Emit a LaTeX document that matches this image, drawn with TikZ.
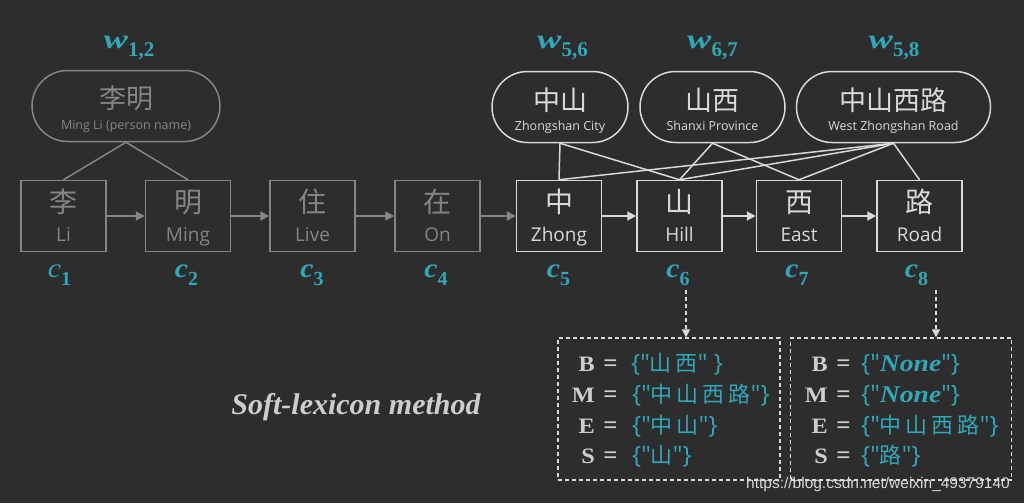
\documentclass[tikz,border=0pt]{standalone}
\usepackage{fontspec}
\setmainfont{Open Sans}
\newfontfamily\cjk{Noto Sans CJK SC}
\newfontfamily\serifb{Liberation Serif}
\newfontfamily\wmfont{Liberation Sans}
\newfontfamily\rawsans[Ligatures=TeXOff]{Open Sans}
\usetikzlibrary{arrows.meta}
\definecolor{bgc}{HTML}{2D2D2D}
\definecolor{dimc}{HTML}{858585}
\definecolor{litc}{HTML}{D9D9D9}
\definecolor{tealc}{HTML}{2FA8BA}
\definecolor{softc}{HTML}{CDCDCD}
\tikzset{
  charbox/.style={draw, line width=1.5pt, minimum width=85pt, minimum height=71pt, inner sep=0pt},
  wordoval/.style={draw, line width=1.5pt, minimum height=71pt, rounded corners=35.5pt, inner sep=0pt},
  zh/.style={anchor=base, inner sep=0pt, font=\cjk\fontsize{28}{30}\selectfont},
  en/.style={anchor=base, inner sep=0pt, font=\fontsize{19}{22}\selectfont},
  ozh/.style={anchor=base, inner sep=0pt, font=\cjk\fontsize{27}{30}\selectfont},
  oen/.style={anchor=base, inner sep=0pt, font=\fontsize{12.5}{14}\selectfont},
  lab/.style={anchor=base, inner sep=0pt, text=tealc},
  link/.style={line width=1.5pt},
  flow/.style={line width=2pt, -{Triangle[length=9pt,width=9pt]}},
  dasharrow/.style={line width=1.3pt, dash pattern=on 4pt off 3pt, litc, -{Triangle[length=8pt,width=8pt]}},
  dashbox/.style={draw=litc, line width=1.3pt, dash pattern=on 4pt off 3pt},
  rowl/.style={anchor=base east, inner sep=0pt, text=softc, font=\serifb\bfseries\fontsize{22}{24}\selectfont},
  roweq/.style={anchor=base, inner sep=0pt, text=softc, font=\serifb\bfseries\fontsize{25}{28}\selectfont},
  rowc/.style={anchor=base west, inner sep=0pt, text=tealc, font=\rawsans\fontsize{24}{26}\selectfont},
}
\newcommand{\zhc}[1]{{\cjk\fontsize{22}{24}\selectfont #1}}
\newcommand{\zg}{\hspace{4pt}}
\newcommand{\nonew}{{\serifb\bfseries\itshape\fontsize{24}{26}\selectfont\scalebox{1.15}[1]{None}}}
\newcommand{\rowletter}[1]{\scalebox{1.1}[1]{#1}}
\newcommand{\wlab}[2]{{\serifb\bfseries\itshape\fontsize{27}{30}\selectfont\scalebox{1.35}[1]{w}}\raisebox{-8pt}{\serifb\bfseries\fontsize{21}{22}\selectfont #1#2}}
\newcommand{\clab}[1]{{\serifb\bfseries\itshape\fontsize{27}{30}\selectfont\scalebox{1.1}[1]{c}}\raisebox{-8pt}{\serifb\bfseries\fontsize{20}{22}\selectfont #1}}
\newcommand{\clabthin}[1]{{\serifb\itshape\fontsize{27}{30}\selectfont\scalebox{1.1}[1]{c}}\raisebox{-8pt}{\serifb\bfseries\fontsize{20}{22}\selectfont #1}}
\begin{document}
\begin{tikzpicture}[x=1pt,y=-1pt]
\fill[bgc] (0,0) rectangle (1024,503);
\useasboundingbox (0,0) rectangle (1024,503);

% ---------- character boxes (dim) ----------
\begin{scope}[dimc]
\node[charbox] (b1) at (63.5,216) {};
\node[charbox] (b2) at (188,216) {};
\node[charbox] (b3) at (312.5,216) {};
\node[charbox] (b4) at (437.5,216) {};
\node[zh, text=dimc] (t1) at (63.5,212) {李};
\node[en, text=dimc] (e1) at (63.5,241.5) {Li};
\node[zh, text=dimc] (t2) at (188,212) {明};
\node[en, text=dimc] (e2) at (188,241.5) {Ming};
\node[zh, text=dimc] (t3) at (312.5,212) {住};
\node[en, text=dimc] (e3) at (312.5,241.5) {Live};
\node[zh, text=dimc] (t4) at (437.5,212) {在};
\node[en, text=dimc] (e4) at (437.5,241.5) {On};
\node[wordoval, minimum width=188pt] (o12) at (126,106) {};
\node[ozh, text=dimc] (oz12) at (126,108) {李明};
\node[oen, text=dimc] (oe12) at (126,129.5) {Ming Li (person name)};
\draw[link] (o12.south) -- (b1.north);
\draw[link] (o12.south) -- (b2.north);
\draw[flow] (b1) -- (b2);
\draw[flow] (b2) -- (b3);
\draw[flow] (b3) -- (b4);
\end{scope}

% ---------- character boxes (lit) ----------
\begin{scope}[litc]
\node[charbox] (b5) at (559,216) {};
\node[charbox] (b6) at (679.5,216) {};
\node[charbox] (b7) at (799,216) {};
\node[charbox] (b8) at (919.5,216) {};
\node[zh, text=litc] (t5) at (559,212) {中};
\node[en, text=litc] (e5) at (559,241.5) {Zhong};
\node[zh, text=litc] (t6) at (679.5,212) {山};
\node[en, text=litc] (e6) at (679.5,241.5) {Hill};
\node[zh, text=litc] (t7) at (799,212) {西};
\node[en, text=litc] (e7) at (799,241.5) {East};
\node[zh, text=litc] (t8) at (919.5,212) {路};
\node[en, text=litc] (e8) at (919.5,241.5) {Road};

\node[wordoval, minimum width=136pt] (o56) at (560,107) {};
\node[ozh, text=litc] (oz56) at (560,110) {中山};
\node[oen, text=litc] (oe56) at (560,130) {Zhongshan City};
\node[wordoval, minimum width=145pt] (o67) at (712.5,107) {};
\node[ozh, text=litc] (oz67) at (712.5,110) {山西};
\node[oen, text=litc] (oe67) at (712.5,130) {Shanxi Province};
\node[wordoval, minimum width=194pt] (o58) at (893.5,107) {};
\node[ozh, text=litc] (oz58) at (893.5,110) {中山西路};
\node[oen, text=litc] (oe58) at (893.5,130) {West Zhongshan Road};

\draw[link] (o56.south) -- (b5.north);
\draw[link] (o56.south) -- (b6.north);
\draw[link] (o67.south) -- (b6.north);
\draw[link] (o67.south) -- (b7.north);
\draw[link] (o58.south) -- (b5.north);
\draw[link] (o58.south) -- (b6.north);
\draw[link] (o58.south) -- (b7.north);
\draw[link] (o58.south) -- (b8.north);
\draw[flow] (b5) -- (b6);
\draw[flow] (b6) -- (b7);
\draw[flow] (b7) -- (b8);
\end{scope}
\draw[flow, dimc] (b4) -- (b5);

% ---------- labels ----------
\node[lab] (w12) at (129,48.5) {\wlab{1}{,2}};
\node[lab] (w56) at (562.5,48.5) {\wlab{5}{,6}};
\node[lab] (w67) at (712.5,48.5) {\wlab{6}{,7}};
\node[lab] (w58) at (894,48.5) {\wlab{5}{,8}};
\node[lab] (c1) at (59.5,277) {\clabthin{1}};
\node[lab] (c2) at (186.5,277) {\clab{2}};
\node[lab] (c3) at (312,277) {\clab{3}};
\node[lab] (c4) at (436,277) {\clab{4}};
\node[lab] (c5) at (558.5,277) {\clab{5}};
\node[lab] (c6) at (678,277) {\clab{6}};
\node[lab] (c7) at (797,277) {\clab{7}};
\node[lab] (c8) at (916.5,277) {\clab{8}};

% ---------- soft-lexicon sets ----------
\node[dashbox, minimum width=222pt, minimum height=142pt, inner sep=0pt] (s6) at (669,409) {};
\node[dashbox, minimum width=221pt, minimum height=142pt, inner sep=0pt] (s8) at (901,409) {};
\coordinate (d6) at (686,290);
\coordinate (d8) at (936,290);
\draw[dasharrow] (d6) -- (d6 |- s6.north);
\draw[dasharrow] (d8) -- (d8 |- s8.north);

\node[rowl] (lb1) at (595,371) {\rowletter{B}};
\node[roweq] (le1) at (610.5,371) {=};
\node[rowc] (lc1) at (631,371) {\{"\zhc{山\zg 西}" \}};
\node[rowl] (lb2) at (595,402) {\rowletter{M}};
\node[roweq] (le2) at (610.5,402) {=};
\node[rowc] (lc2) at (632,402) {\{"\zhc{中\zg 山\zg 西\zg 路}"\}};
\node[rowl] (lb3) at (595,433) {\rowletter{E}};
\node[roweq] (le3) at (610.5,433) {=};
\node[rowc] (lc3) at (632,433) {\{"\zhc{中\zg 山}"\}};
\node[rowl] (lb4) at (595,463) {\rowletter{S}};
\node[roweq] (le4) at (610.5,463) {=};
\node[rowc] (lc4) at (632,463) {\{"\zhc{山}"\}};

\node[rowl] (rb1) at (828,371) {\rowletter{B}};
\node[roweq] (re1) at (843.5,371) {=};
\node[rowc] (rc1) at (861,371) {\{"\nonew"\}};
\node[rowl] (rb2) at (828,402) {\rowletter{M}};
\node[roweq] (re2) at (843.5,402) {=};
\node[rowc] (rc2) at (861,402) {\{"\nonew"\}};
\node[rowl] (rb3) at (828,433) {\rowletter{E}};
\node[roweq] (re3) at (843.5,433) {=};
\node[rowc] (rc3) at (861,433) {\{"\zhc{中\zg 山\zg 西\zg 路}"\}};
\node[rowl] (rb4) at (828,463) {\rowletter{S}};
\node[roweq] (re4) at (843.5,463) {=};
\node[rowc] (rc4) at (861,463) {\{"\zhc{路}"\}};

\node[anchor=base, inner sep=0pt, text=softc, font=\serifb\bfseries\itshape\fontsize{30}{32}\selectfont] (title) at (356,414) {Soft-lexicon method};
\node[anchor=base, inner sep=0pt, text=litc, font=\wmfont\fontsize{15.5}{17}\selectfont] (wm) at (878,488) {https://blog.csdn.net/weixin\_49379140};
\end{tikzpicture}
\end{document}
